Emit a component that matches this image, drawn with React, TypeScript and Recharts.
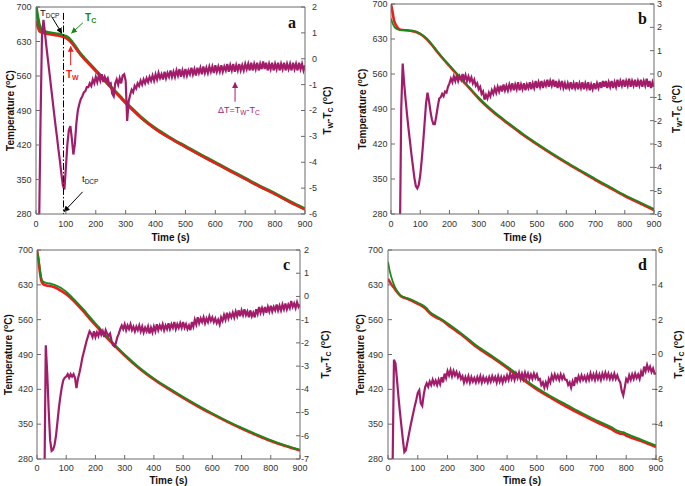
import React from 'react';
import { ComposedChart, Line, XAxis, YAxis, ReferenceLine, ReferenceDot } from 'recharts';

const FONT = '"Liberation Sans", Arial, sans-serif';
const SERIF = '"Liberation Serif", "Times New Roman", serif';
const AXIS = '#6a6a6a';
const LABEL = '#333';
const RED = '#ee1c1c';
const GREEN = '#178a17';
const MAG = '#a11d6a';

const TIME_TICKS = [0, 100, 200, 300, 400, 500, 600, 700, 800, 900];
const TEMP_TICKS = [280, 350, 420, 490, 560, 630, 700];
const A_DT_TICKS = [-6, -5, -4, -3, -2, -1, 0, 1, 2];
const B_DT_TICKS = [-6, -5, -4, -3, -2, -1, 0, 1, 2, 3];
const C_DT_TICKS = [-7, -6, -5, -4, -3, -2, -1, 0, 1, 2];
const D_DT_TICKS = [-6, -4, -2, 0, 2, 4, 6];
const DT_STEP = 5; // ΔT sampled every 5 s, from t = 0 to 900

// ---------- panel a ----------
const A_TIMES = [0, 5, 10, 15, 20, 30, 40, 50, 60, 70, 80, 90, 100, 110, 120, 130, 140, 150, 160, 180, 200, 220, 250, 280, 300, 320, 350, 400, 450, 500, 550, 600, 650, 700, 750, 800, 850, 900];
const A_TC = [700, 681, 665, 656, 652, 649.5, 648, 647, 646, 645, 644, 642, 640, 636, 629, 621, 612, 604, 597, 584, 571, 558, 538, 519, 506, 494, 477, 453, 434, 417, 400, 384, 368, 352, 336, 321, 305, 290];
const A_TW = [672, 660, 652, 649, 647.5, 646, 645, 644, 643, 642, 641, 639, 636.5, 632.5, 626, 618.5, 610, 602.5, 595.5, 582.5, 570, 557, 537, 518, 505, 493, 476, 452, 433, 416, 399, 383, 367, 351, 335, 320, 304, 289];
const A_DT = [
  -8, -8, -6.8, -2.5, 0.9, 1.5, 1.0, 0.45, -0.05, -0.55,
  -1.05, -1.55, -2.05, -2.55, -3.0, -3.5, -3.95, -4.45, -4.9, -5.05,
  -4.2, -3.3, -2.75, -2.6, -3.1, -3.7, -3.3, -2.5, -2.0, -1.75,
  -1.55, -1.45, -1.3, -1.25, -1.1, -1.1, -0.95, -1.05, -0.8, -0.95,
  -0.7, -0.9, -0.65, -0.85, -0.6, -0.9, -0.7, -0.85, -0.75, -1.0,
  -0.95, -1.35, -1.45, -0.95, -0.8, -1.0, -0.75, -0.95, -0.65, -0.6,
  -0.85, -2.4, -1.65, -1.4, -1.2, -1.3, -1.05, -1.15, -0.95, -1.05,
  -0.85, -1.0, -0.8, -0.95, -0.75, -0.9, -0.7, -0.85, -0.65, -0.85,
  -0.6, -0.8, -0.55, -0.75, -0.6, -0.8, -0.5, -0.75, -0.55, -0.7,
  -0.45, -0.7, -0.5, -0.7, -0.45, -0.65, -0.4, -0.7, -0.45, -0.65,
  -0.4, -0.65, -0.45, -0.6, -0.35, -0.6, -0.4, -0.65, -0.35, -0.55,
  -0.35, -0.6, -0.3, -0.55, -0.35, -0.55, -0.3, -0.5, -0.3, -0.55,
  -0.25, -0.5, -0.3, -0.5, -0.25, -0.5, -0.3, -0.45, -0.2, -0.5,
  -0.25, -0.45, -0.2, -0.5, -0.25, -0.45, -0.2, -0.45, -0.25, -0.45,
  -0.2, -0.4, -0.2, -0.45, -0.15, -0.45, -0.2, -0.4, -0.15, -0.45,
  -0.2, -0.4, -0.1, -0.4, -0.15, -0.45, -0.2, -0.4, -0.15, -0.45,
  -0.2, -0.4, -0.15, -0.45, -0.2, -0.4, -0.15, -0.45, -0.2, -0.4,
  -0.2, -0.45, -0.15, -0.4, -0.2, -0.45, -0.15, -0.4, -0.2, -0.45,
  -0.25,
];

// ---------- panel b ----------
const B_TIMES = [0, 5, 10, 15, 20, 25, 30, 40, 50, 60, 70, 80, 90, 100, 110, 120, 140, 160, 180, 200, 220, 240, 260, 280, 300, 330, 360, 400, 450, 500, 550, 600, 650, 700, 750, 800, 850, 900];
const B_TW = [700, 685, 668, 660, 655, 651, 649, 648, 647.5, 647, 646, 645, 643, 640, 636, 631, 618, 603, 589, 576, 563, 550, 537, 524, 511, 494, 479, 461, 439, 419, 400, 382, 365, 348, 332, 316, 302, 288];
const B_TC = [671, 662, 656, 652, 650, 649, 648, 648, 647.5, 647, 646.5, 645.5, 644, 641, 637, 632, 619.5, 604.5, 590.5, 577.5, 564.5, 551.5, 538.5, 525.5, 513, 496, 481, 463, 441, 421, 402, 384, 367, 350, 334, 318, 304, 290];
const B_DT = [
  -8, -8, -8, -8, -8, -8, -7.5, -1.5, 0.45, -0.4,
  -1.1, -1.75, -2.35, -2.9, -3.45, -3.95, -4.45, -4.8, -4.9, -4.75,
  -4.35, -3.7, -2.95, -2.1, -1.25, -0.8, -1.15, -1.6, -1.95, -2.15,
  -2.15, -1.8, -1.4, -1.05, -1.0, -0.85, -0.95, -0.75, -0.8, -0.55,
  -0.4, -0.2, -0.35, -0.1, -0.3, -0.05, -0.3, -0.1, -0.25, 0.0,
  -0.25, -0.05, -0.3, -0.1, -0.3, -0.15, -0.4, -0.25, -0.5, -0.4,
  -0.65, -0.55, -0.85, -0.75, -1.1, -0.9, -1.05, -0.8, -0.95, -0.7,
  -0.85, -0.6, -0.8, -0.55, -0.75, -0.5, -0.75, -0.45, -0.7, -0.5,
  -0.7, -0.45, -0.65, -0.4, -0.7, -0.45, -0.65, -0.35, -0.7, -0.45,
  -0.65, -0.4, -0.7, -0.45, -0.6, -0.35, -0.65, -0.4, -0.6, -0.3,
  -0.6, -0.35, -0.55, -0.3, -0.6, -0.35, -0.5, -0.25, -0.55, -0.3,
  -0.5, -0.25, -0.55, -0.3, -0.6, -0.35, -0.55, -0.3, -0.6, -0.4,
  -0.65, -0.4, -0.6, -0.35, -0.65, -0.4, -0.6, -0.35, -0.65, -0.4,
  -0.6, -0.35, -0.65, -0.4, -0.6, -0.35, -0.7, -0.45, -0.65, -0.4,
  -0.65, -0.4, -0.6, -0.35, -0.6, -0.3, -0.55, -0.3, -0.6, -0.35,
  -0.55, -0.3, -0.6, -0.35, -0.55, -0.25, -0.55, -0.3, -0.5, -0.25,
  -0.55, -0.3, -0.5, -0.2, -0.55, -0.3, -0.5, -0.25, -0.55, -0.3,
  -0.5, -0.25, -0.55, -0.3, -0.5, -0.2, -0.55, -0.3, -0.6, -0.35,
  -0.55,
];

// ---------- panel c ----------
const C_TIMES = [0, 5, 10, 15, 20, 30, 40, 50, 60, 80, 100, 120, 140, 160, 180, 200, 250, 300, 350, 400, 450, 500, 550, 600, 650, 700, 750, 800, 850, 900];
const C_TW = [700, 680, 655, 638, 632, 629, 628, 627, 625, 619, 611, 601, 589, 576, 562, 549, 517, 488, 462, 440, 421, 403, 386, 370, 355, 341, 328, 316, 306, 297];
const C_TC = [698, 684, 662, 644, 637, 634, 633, 632, 630, 624.5, 616, 605, 593, 580, 566, 552.5, 520, 490, 464, 442, 423, 405, 388, 372, 357, 343, 330, 318, 307.5, 298.5];
const C_DT = [
  -9, -9, -9, -9, -9, -8.5, -2.1, -3.3, -4.9, -6.2,
  -6.65, -6.6, -6.4, -6.0, -5.4, -4.8, -4.3, -3.9, -3.6, -3.5,
  -3.45, -3.35, -3.5, -3.35, -3.45, -3.35, -3.5, -3.95, -3.55, -3.3,
  -3.0, -2.65, -2.4, -2.15, -1.9, -1.7, -1.5, -1.6, -1.75, -1.5,
  -1.75, -1.55, -1.7, -1.45, -1.65, -1.5, -1.75, -1.45, -1.6, -1.7,
  -1.6, -1.9, -2.1, -2.15, -2.0, -1.75, -1.6, -1.4, -1.25, -1.4,
  -1.2, -1.45, -1.25, -1.4, -1.2, -1.45, -1.3, -1.5, -1.3, -1.45,
  -1.25, -1.5, -1.3, -1.55, -1.35, -1.5, -1.3, -1.6, -1.35, -1.55,
  -1.3, -1.5, -1.2, -1.45, -1.25, -1.4, -1.2, -1.45, -1.25, -1.4,
  -1.15, -1.4, -1.2, -1.35, -1.1, -1.4, -1.2, -1.35, -1.15, -1.35,
  -1.1, -1.35, -1.2, -1.4, -1.25, -1.45, -1.1, -1.3, -1.0, -1.2,
  -0.9, -1.15, -0.95, -1.1, -0.9, -1.15, -0.95, -1.1, -0.85, -1.05,
  -0.9, -1.1, -0.95, -1.15, -1.0, -1.2, -0.9, -1.05, -0.8, -1.0,
  -0.7, -0.95, -0.75, -0.9, -0.7, -0.9, -0.65, -0.85, -0.6, -0.85,
  -0.6, -0.8, -0.55, -0.8, -0.65, -0.9, -0.6, -0.85, -0.7, -0.9,
  -0.55, -0.75, -0.45, -0.7, -0.5, -0.7, -0.45, -0.7, -0.45, -0.65,
  -0.4, -0.65, -0.45, -0.6, -0.35, -0.6, -0.4, -0.6, -0.35, -0.55,
  -0.3, -0.55, -0.35, -0.5, -0.2, -0.45, -0.3, -0.5, -0.25, -0.45,
  -0.35,
];

// ---------- panel d ----------
const D_TIMES = [0, 5, 10, 20, 30, 40, 50, 60, 80, 100, 120, 130, 140, 160, 180, 200, 250, 300, 350, 400, 450, 500, 550, 600, 650, 700, 750, 770, 780, 790, 800, 850, 900];
const D_TW = [642, 637, 632, 624, 616, 609, 605, 603, 598, 592, 585, 580, 573, 565, 559, 550, 528, 504, 484, 463, 441, 420, 402, 385, 369, 354, 340, 333, 331, 330.5, 327, 316, 304];
const D_TC = [676, 660, 648, 630, 618, 610, 606, 604, 600, 594, 588, 583, 576, 568, 561, 553, 531, 507, 487, 466, 444, 423, 405, 389, 373, 358, 344, 337, 335, 334, 331, 319, 307];
const D_DT = [
  -8, -8, -8, -7, -0.3, -0.5, -1.4, -2.4, -3.3, -4.1,
  -4.9, -5.6, -5.5, -5.05, -4.6, -4.15, -3.75, -3.35, -2.95, -2.6,
  -2.2, -2.05, -2.8, -2.95, -2.3, -1.85, -1.65, -1.85, -1.55, -1.75,
  -1.45, -1.7, -1.5, -1.75, -1.45, -1.7, -1.3, -1.6, -1.1, -1.35,
  -0.95, -1.2, -0.9, -1.25, -0.95, -1.2, -1.0, -1.3, -1.1, -1.4,
  -1.25, -1.6, -1.3, -1.55, -1.25, -1.6, -1.3, -1.55, -1.35, -1.6,
  -1.3, -1.55, -1.25, -1.6, -1.3, -1.55, -1.35, -1.6, -1.3, -1.55,
  -1.25, -1.5, -1.3, -1.6, -1.25, -1.55, -1.3, -1.6, -1.3, -1.5,
  -1.2, -1.45, -1.1, -1.4, -1.15, -1.45, -1.1, -1.35, -1.05, -1.4,
  -1.1, -1.4, -1.05, -1.35, -1.1, -1.4, -1.15, -1.4, -1.1, -1.35,
  -1.15, -1.45, -1.4, -1.75, -1.6, -1.9, -1.6, -1.85, -1.4, -1.6,
  -1.2, -1.45, -1.15, -1.4, -1.2, -1.45, -1.15, -1.4, -1.2, -1.45,
  -1.45, -1.75, -1.6, -1.9, -1.55, -1.8, -1.3, -1.55, -1.25, -1.5,
  -1.2, -1.45, -1.25, -1.5, -1.2, -1.45, -1.1, -1.4, -1.15, -1.45,
  -1.1, -1.4, -1.15, -1.45, -1.1, -1.35, -1.05, -1.35, -1.1, -1.4,
  -1.15, -1.4, -1.1, -1.4, -1.2, -1.45, -1.6, -2.1, -2.35, -1.9,
  -1.4, -1.55, -1.2, -1.45, -1.15, -1.4, -1.1, -1.35, -1.15, -1.4,
  -1.0, -1.25, -0.7, -0.95, -0.6, -0.9, -0.7, -1.0, -0.8, -1.1,
  -1.1,
];

// layout (pixels in the 685x486 page)
const LAY_A = { left: 0, top: 0, w: 340, h: 246, pl: 36, pr: 305, pt: 7, pb: 214, gapL: 4.5, gapR: 12, gapB: 7, titleL: 10, titleR: 327, timeY: 241 };
const LAY_B = { left: 340, top: 0, w: 345, h: 246, pl: 391, pr: 654, pt: 4, pb: 214, gapL: 3.5, gapR: 8, gapB: 7, titleL: 362, titleR: 676, timeY: 241 };
const LAY_C = { left: 0, top: 240, w: 340, h: 246, pl: 37, pr: 300, pt: 250, pb: 459, gapL: 4, gapR: 9, gapB: 6, titleL: 8, titleR: 325, timeY: 484 };
const LAY_D = { left: 340, top: 240, w: 345, h: 246, pl: 388, pr: 656, pt: 250, pb: 459, gapL: 5, gapR: 7, gapB: 6, titleL: 360, titleR: 678.5, timeY: 484 };

const tickText = { fontSize: 9, fill: LABEL, fontFamily: FONT } as any;

function Panel({ lay, times, tw, tc, dt, dtDomain, dtTicks, redOnTop, extras }: any) {
  const temp = times.map((t: number, i: number) => ({ t, tw: tw[i], tc: tc[i] }));
  const dtData = dt.map((v: number, i: number) => ({ t: i * DT_STEP, dt: v }));
  const leftTick = (p: any) => (
    <g>
      <line x1={p.x} x2={p.x + 4} y1={p.y} y2={p.y} stroke={AXIS} />
      <text x={p.x - lay.gapL} y={p.y} dy="0.35em" textAnchor="end" {...tickText}>{p.payload.value}</text>
    </g>
  );
  const rightTick = (p: any) => (
    <g>
      <line x1={p.x} x2={p.x - 4} y1={p.y} y2={p.y} stroke={AXIS} />
      <text x={p.x + lay.gapR} y={p.y} dy="0.32em" textAnchor="end" {...tickText}>{p.payload.value}</text>
    </g>
  );
  const bottomTick = (p: any) => (
    <g>
      <line x1={p.x} x2={p.x} y1={p.y} y2={p.y - 4} stroke={AXIS} />
      <text x={p.x} y={p.y + lay.gapB} dy="0.71em" textAnchor="middle" {...tickText}>{p.payload.value}</text>
    </g>
  );
  const redLine = (
    <Line key="tw" yAxisId="T" data={temp} dataKey="tw" type="monotone" stroke={RED} strokeWidth={redOnTop ? 2.3 : 2.6} dot={false} isAnimationActive={false} />
  );
  const greenLine = (
    <Line key="tc" yAxisId="T" data={temp} dataKey="tc" type="monotone" stroke={GREEN} strokeWidth={redOnTop ? 3.4 : 1.8} dot={false} isAnimationActive={false} />
  );
  return (
    <div style={{ position: 'absolute', left: lay.left, top: lay.top, width: lay.w, height: lay.h }}>
      <ComposedChart width={lay.w} height={lay.h} margin={{ top: lay.pt - lay.top, right: 0, bottom: 0, left: 0 }}>
        <XAxis type="number" dataKey="t" domain={[0, 900]} ticks={TIME_TICKS} interval={0} allowDataOverflow
          height={lay.top + lay.h - lay.pb} tickSize={0} tickMargin={0} tickLine={false} tick={bottomTick} axisLine={{ stroke: AXIS }} />
        <YAxis yAxisId="T" domain={[280, 700]} ticks={TEMP_TICKS} interval={0} allowDataOverflow
          width={lay.pl - lay.left} tickSize={0} tickMargin={0} tickLine={false} tick={leftTick} axisLine={{ stroke: AXIS }} />
        <YAxis yAxisId="D" orientation="right" domain={dtDomain} ticks={dtTicks} interval={0} allowDataOverflow
          width={lay.left + lay.w - lay.pr} tickSize={0} tickMargin={0} tickLine={false} tick={rightTick} axisLine={{ stroke: AXIS }} />
        <ReferenceLine yAxisId="T" y={700} stroke={AXIS} />
        {redOnTop ? greenLine : redLine}
        {redOnTop ? redLine : greenLine}
        <Line yAxisId="D" data={dtData} dataKey="dt" type="linear" stroke={MAG} strokeWidth={2.2} dot={false} isAnimationActive={false} />
        {extras}
      </ComposedChart>
    </div>
  );
}

const arrow = (key: string, yAxisId: string, x1: number, y1: number, x2: number, y2: number, color: string, marker: string, dash?: string) => (
  <ReferenceLine key={key} yAxisId={yAxisId} segment={[{ x: x1, y: y1 }, { x: x2, y: y2 }]} ifOverflow="visible"
    shape={(p: any) => (
      <line x1={p.x1} y1={p.y1} x2={p.x2} y2={p.y2} stroke={color} strokeWidth={1} strokeDasharray={dash}
        markerEnd={marker ? `url(#${marker})` : undefined} />
    )} />
);

const note = (key: string, yAxisId: string, x: number, y: number, render: (cx: number, cy: number) => any) => (
  <ReferenceDot key={key} yAxisId={yAxisId} x={x} y={y} r={0} ifOverflow="visible" shape={(p: any) => render(p.cx, p.cy)} />
);

const A_EXTRAS = [
  arrow('dcp', 'T', 92, 688, 92, 280, '#000', '', '7 2 1.5 2'),
  note('tdcpT', 'T', 13, 682, (x, y) => (
    <text x={x} y={y} fontSize={9.5} fill="#111" fontFamily={FONT}>T<tspan fontSize={6.5} dy={2}>DCP</tspan></text>
  )),
  arrow('a1', 'T', 54, 679, 86, 647, '#000', 'arK'),
  note('tc', 'T', 164, 671.5, (x, y) => (
    <text x={x} y={y} fontSize={10} fontWeight="bold" fill={GREEN} fontFamily={FONT}>T<tspan fontSize={7} dy={2}>C</tspan></text>
  )),
  arrow('a2', 'T', 157, 668, 119, 647, GREEN, 'arG'),
  note('tw', 'T', 100, 556, (x, y) => (
    <text x={x} y={y} fontSize={10} fontWeight="bold" fill={RED} fontFamily={FONT}>T<tspan fontSize={7} dy={2}>W</tspan></text>
  )),
  arrow('a3', 'T', 116, 582, 116, 620, RED, 'arR'),
  note('tdcp', 'T', 154, 345, (x, y) => (
    <text x={x} y={y} fontSize={9.5} fill="#111" fontFamily={FONT}>t<tspan fontSize={6.5} dy={2}>DCP</tspan></text>
  )),
  arrow('a4', 'T', 156, 325, 94, 285, '#000', 'arK'),
  note('dT', 'D', 609, -2.1, (x, y) => (
    <text x={x} y={y} fontSize={9} fill={MAG} fontFamily={FONT}>ΔT=T<tspan fontSize={6.5} dy={2}>W</tspan><tspan dy={-2}>-T</tspan><tspan fontSize={6.5} dy={2}>C</tspan></text>
  )),
  arrow('a5', 'D', 666, -1.66, 666, -0.92, MAG, 'arM'),
];

const TempTitle = ({ lay }: any) => {
  const cy = (lay.pt + lay.pb) / 2;
  return (
    <text transform={`translate(${lay.titleL},${cy}) rotate(-90)`} textAnchor="middle" dy="0.35em" fontSize={10} fontWeight="bold" fill="#111" fontFamily={FONT}>
      Temperature (<tspan fontSize={7} dy={-4}>o</tspan><tspan dy={4}>C)</tspan>
    </text>
  );
};
const DtTitle = ({ lay }: any) => {
  const cy = (lay.pt + lay.pb) / 2;
  return (
    <text transform={`translate(${lay.titleR},${cy}) rotate(-90)`} textAnchor="middle" dy="0.35em" fontSize={10} fontWeight="bold" fill="#111" fontFamily={FONT}>
      T<tspan fontSize={7} dy={2}>W</tspan><tspan dy={-2}>-T</tspan><tspan fontSize={7} dy={2}>C</tspan><tspan dy={-2}> (</tspan><tspan fontSize={7} dy={-4}>o</tspan><tspan dy={4}>C)</tspan>
    </text>
  );
};
const TimeTitle = ({ lay }: any) => (
  <text x={(lay.pl + lay.pr) / 2} y={lay.timeY} textAnchor="middle" fontSize={10} fontWeight="bold" fill="#111" fontFamily={FONT}>Time (s)</text>
);

const Letter = ({ x, y, ch }: any) => (
  <text x={x} y={y} fontSize={16} fontWeight="bold" fill="#111" fontFamily={SERIF}>{ch}</text>
);

export default function App() {
  const lays = [LAY_A, LAY_B, LAY_C, LAY_D];
  return (
    <div style={{ position: 'absolute', left: 0, top: 0, width: 685, height: 486, background: '#fff', overflow: 'hidden' }}>
      <svg width={0} height={0} style={{ position: 'absolute' }}>
        <defs>
          {[['arK', '#000'], ['arG', GREEN], ['arR', RED], ['arM', MAG]].map(([id, c]) => (
            <marker key={id} id={id} viewBox="0 0 10 10" refX="9" refY="5" markerWidth="6" markerHeight="6" orient="auto">
              <path d="M0,0 L10,5 L0,10 z" fill={c} />
            </marker>
          ))}
        </defs>
      </svg>
      <Panel lay={LAY_A} times={A_TIMES} tw={A_TW} tc={A_TC} dt={A_DT} dtDomain={[-6, 2]} dtTicks={A_DT_TICKS} redOnTop extras={A_EXTRAS} />
      <Panel lay={LAY_B} times={B_TIMES} tw={B_TW} tc={B_TC} dt={B_DT} dtDomain={[-6, 3]} dtTicks={B_DT_TICKS} redOnTop={false} extras={[]} />
      <Panel lay={LAY_C} times={C_TIMES} tw={C_TW} tc={C_TC} dt={C_DT} dtDomain={[-7, 2]} dtTicks={C_DT_TICKS} redOnTop={false} extras={[]} />
      <Panel lay={LAY_D} times={D_TIMES} tw={D_TW} tc={D_TC} dt={D_DT} dtDomain={[-6, 6]} dtTicks={D_DT_TICKS} redOnTop={false} extras={[]} />
      <svg width={685} height={486} style={{ position: 'absolute', left: 0, top: 0, pointerEvents: 'none' }}>
        {lays.map((l, i) => (
          <g key={i}>
            <TempTitle lay={l} />
            <DtTitle lay={l} />
            <TimeTitle lay={l} />
          </g>
        ))}
        <Letter x={288} y={27.5} ch="a" />
        <Letter x={638} y={24} ch="b" />
        <Letter x={283} y={270} ch="c" />
        <Letter x={638} y={270} ch="d" />
      </svg>
    </div>
  );
}
